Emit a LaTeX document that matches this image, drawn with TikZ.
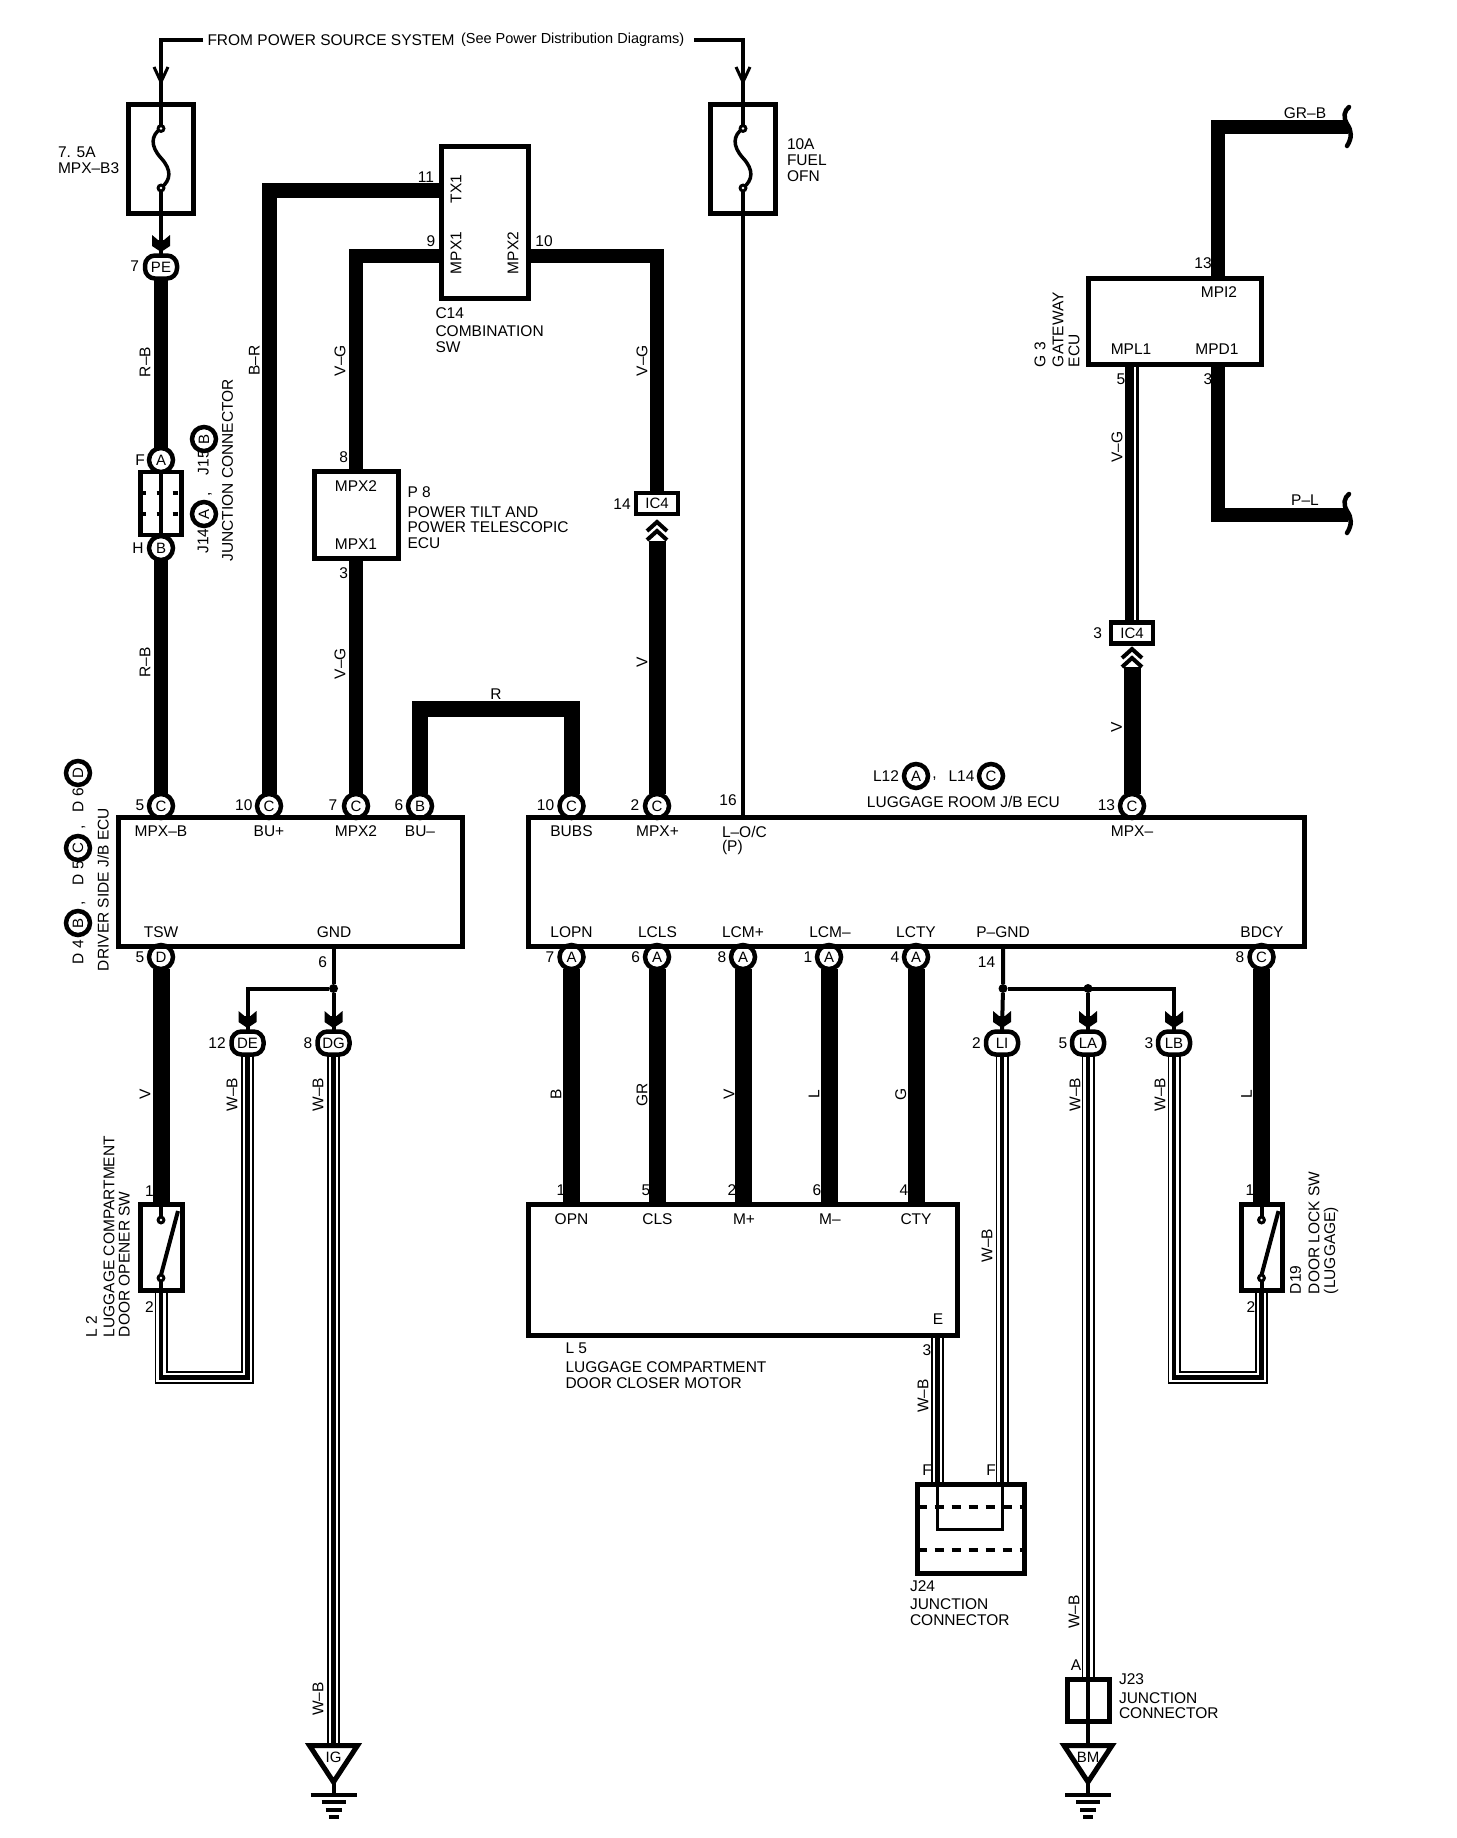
\documentclass[tikz,border=0pt]{standalone}
\usepackage{fontspec}
\setmainfont{Liberation Sans}
\pgfdeclarelayer{bg}
\pgfsetlayers{bg,main}
\tikzset{
 tx/.style={inner sep=0pt,outer sep=0pt,font=\fontsize{15.5}{18}\selectfont},
 txl/.style={tx,anchor=west},
 rt/.style={tx,rotate=90},
 rtl/.style={tx,rotate=90,anchor=west},
 num/.style={tx,font=\fontsize{15.5}{18}\selectfont},
 conn/.style={circle,draw=black,fill=white,line width=4.5pt,minimum size=24pt,inner sep=0pt,outer sep=0pt,font=\fontsize{15}{16}\selectfont},
 oval/.style={rectangle,rounded corners=10pt,draw=black,fill=white,line width=4.5pt,minimum width=32pt,minimum height=23pt,inner sep=0pt,outer sep=0pt,font=\fontsize{15}{16}\selectfont},
 box/.style={rectangle,draw=black,line width=5pt,inner sep=0pt,outer sep=0pt},
 icbox/.style={box,fill=white,line width=4.5pt,minimum width=42pt,minimum height=21pt,font=\fontsize{15}{16}\selectfont},
 dotn/.style={circle,fill=black,minimum size=9pt,inner sep=0pt,outer sep=0pt},
 w4/.style={draw=black,line width=4pt,line join=miter},
 wthick/.style={draw=black,line width=#1,line join=miter},
 triple/.style={draw=black,line width=13pt,line join=miter,postaction={draw=white,line width=9.5pt},postaction={draw=black,line width=4.5pt}},
}
\newcommand{\fusecurve}[1]{%
 \draw[line width=3.5pt] (#1,128.5) .. controls (#1-10,135) and (#1-11,146) .. (#1,158) .. controls (#1+11,170) and (#1+10,180) .. (#1,188);
 \fill (#1,128.5) circle (4.5pt) (#1,188) circle (4.5pt);
 \fill[white] (#1,128.5) circle (1.3pt) (#1,188) circle (1.3pt);}
\newcommand{\openv}[2]{\draw[line width=3pt] (#1-7,#2) -- (#1,#2+15) -- (#1+7,#2);}
\newcommand{\barb}[2]{\fill (#1-9,#2) -- (#1-3,#2+5) -- (#1+3,#2+5) -- (#1+9,#2) -- (#1+9,#2+11) -- (#1,#2+17) -- (#1-9,#2+11) -- cycle;}
\newcommand{\chev}[2]{%
 \draw[line width=4pt,line join=miter] (#1-10,#2+9) -- (#1,#2) -- (#1+10,#2+9);
 \draw[line width=4pt,line join=miter] (#1-10,#2+18) -- (#1,#2+9) -- (#1+10,#2+18);}
\newcommand{\lever}[1]{%
 \draw[line width=4pt] (#1,1203) -- (#1,1220);
 \draw[line width=4pt] (#1,1278) -- (#1,1290);
 \draw[line width=4pt] (#1,1275) -- (#1+17,1211);
 \fill (#1,1220) circle (4.5pt) (#1,1278) circle (4.5pt);
 \fill[white] (#1,1220) circle (1.3pt) (#1,1278) circle (1.3pt);}
\newcommand{\gnd}[3]{%
 \coordinate (#1t) at (#2,1743);
 \node[tx,font=\fontsize{15}{16}\selectfont] (#1) at (#2,1757) {#3};
 \draw[line width=5pt,line join=miter] (#2-24,1745.5) -- (#2+24,1745.5) -- (#2,1782) -- cycle;
 \draw[line width=4pt] (#2,1780) -- (#2,1794);
 \draw[line width=4pt] (#2-23,1794.5) -- (#2+23,1794.5);
 \draw[line width=4pt] (#2-12,1802) -- (#2+12,1802);
 \draw[line width=4pt] (#2-8,1809.5) -- (#2+8,1809.5);
 \draw[line width=4pt] (#2-5,1817) -- (#2+5,1817);}
\begin{document}
\begin{tikzpicture}[x=1pt,y=-1pt]
\useasboundingbox (0,0) rectangle (1456,1838);

% free coordinates
\coordinate (lt) at (203,40);
\coordinate (rtc) at (694,40);
\coordinate (fs1t) at (161,128.5);
\coordinate (fs1b) at (161,188);
\coordinate (fs2t) at (743,128.5);
\coordinate (fs2b) at (743,188);
\coordinate (c14tx) at (441.5,191);
\coordinate (c14m1) at (441.5,255.5);
\coordinate (c14m2) at (528.5,255.5);
\coordinate (g3mpi) at (1218,278);
\coordinate (g3mpd) at (1218,364);
\coordinate (g3l) at (1132,364);
\coordinate (grb) at (1348,127);
\coordinate (plw) at (1348,514.5);
\coordinate (v1) at (657,541);
\coordinate (v2) at (1132,667);
\coordinate (rc) at (496,708.5);
\coordinate (dl) at (247.5,1377.5);
\coordinate (lbl) at (1174,1377.5);

% connectors
\node[oval] (PE) at (161,267) {PE};
\node[conn] (ja) at (161,460) {A};
\node[conn] (jb) at (161,548) {B};
\node[conn] (cMPXB) at (161,806) {C};
\node[conn] (cBUp) at (269,806) {C};
\node[conn] (cMPX2) at (356,806) {C};
\node[conn] (cBUm) at (420,806) {B};
\node[conn] (cBUBS) at (571.5,806) {C};
\node[conn] (cMPXp) at (657,806) {C};
\node[conn] (cMPXm) at (1132,806) {C};
\node[conn] (cTSW) at (161,957) {D};
\node[conn] (cLOPN) at (571.5,957) {A};
\node[conn] (cLCLS) at (657,957) {A};
\node[conn] (cLCMp) at (743,957) {A};
\node[conn] (cLCMm) at (829,957) {A};
\node[conn] (cLCTY) at (916,957) {A};
\node[conn] (cBDCY) at (1261.5,957) {C};
\node[oval] (DE) at (247.5,1043) {DE};
\node[oval] (DG) at (333.5,1043) {DG};
\node[oval] (LI) at (1002,1043) {LI};
\node[oval] (LA) at (1088,1043) {LA};
\node[oval] (LB) at (1174,1043) {LB};
\node[conn] (sA) at (916,776) {A};
\node[conn] (sC) at (991,776) {C};
\node[conn,rotate=90] (s14) at (204,514) {A};
\node[conn,rotate=90] (s15) at (204,439) {B};
\node[conn,rotate=90] (d4) at (78,923) {B};
\node[conn,rotate=90] (d5) at (78,848) {C};
\node[conn,rotate=90] (d6) at (78,773) {D};

% boxes
\node[box,minimum width=65pt,minimum height=109pt] (fuse1) at (161,159) {};
\node[box,minimum width=65pt,minimum height=109pt] (fuse2) at (743,159) {};
\node[box,minimum width=87pt,minimum height=151.5pt] (C14) at (485,222.75) {};
\node[box,minimum width=84pt,minimum height=87pt] (P8) at (356,514.5) {};
\node[box,line width=4.5pt,minimum width=41pt,minimum height=63pt] (J14) at (161,503.5) {};
\node[box,minimum width=172.5pt,minimum height=86pt] (G3) at (1174.75,321) {};
\node[icbox] (IC4a) at (657,503.5) {IC4};
\node[icbox] (IC4b) at (1132,633) {IC4};
\node[box,minimum width=343.5pt,minimum height=129pt] (jbL) at (290.25,881.5) {};
\node[box,minimum width=775.5pt,minimum height=129pt] (jbR) at (916.25,881.5) {};
\node[box,minimum width=42pt,minimum height=86pt] (L2) at (161,1247) {};
\node[box,minimum width=41pt,minimum height=86pt] (D19) at (1261.5,1247) {};
\node[box,minimum width=429pt,minimum height=131pt] (L5) at (743,1269.5) {};
\node[box,minimum width=107pt,minimum height=89pt] (J24) at (971,1528.5) {};
\node[box,minimum width=42pt,minimum height=42pt] (J23) at (1088,1700) {};

% junction dots
\node[dotn] (dG) at (333.5,988.5) {};
\node[dotn] (dP) at (1003,988.5) {};
\node[dotn] (dA) at (1088,988.5) {};

% grounds
\gnd{IG}{333.5}{IG}
\gnd{BM}{1088}{BM}

% wires
\begin{pgfonlayer}{bg}
\fill[white] (0,0) rectangle (1456,1838);
\draw[w4] (lt) -| (fs1t);
\draw[w4] (fs1b) -- (PE.north);
\draw[w4] (rtc) -| (fs2t);
\draw[w4] (fs2b) -- (fs2b |- jbR.north);
\draw[wthick=14pt] (PE.south) -- (ja.north);
\draw[w4] (ja.south) -- (jb.north);
\draw[wthick=14pt] (jb.south) -- (cMPXB.north);
\draw[wthick=15pt] (c14tx) -| (cBUp.north);
\draw[wthick=14pt] (c14m1) -| (P8.north);
\draw[wthick=14pt] (P8.south) -- (cMPX2.north);
\draw[wthick=14pt] (c14m2) -| (IC4a.north);
\draw[wthick=17pt] (v1) -- (cMPXp.north);
\draw[wthick=16pt] (cBUm.north) |- (rc) -| (cBUBS.north);
\draw[wthick=14pt] (g3mpi) |- (grb);
\draw[wthick=14pt] (g3mpd) |- (plw);
\draw[wthick=14pt] (g3l) -- (IC4b.north);
\draw[white,line width=2pt] ([xshift=2.5pt]g3l) -- ([xshift=2.5pt]IC4b.north);
\draw[wthick=17pt] (v2) -- (cMPXm.north);
\draw[wthick=17pt] (cTSW.south) -- (cTSW.south |- L2.north);
\draw[wthick=17pt] (cLOPN.south) -- (cLOPN.south |- L5.north);
\draw[wthick=17pt] (cLCLS.south) -- (cLCLS.south |- L5.north);
\draw[wthick=17pt] (cLCMp.south) -- (cLCMp.south |- L5.north);
\draw[wthick=17pt] (cLCMm.south) -- (cLCMm.south |- L5.north);
\draw[wthick=17pt] (cLCTY.south) -- (cLCTY.south |- L5.north);
\draw[wthick=17pt] (cBDCY.south) -- (cBDCY.south |- D19.north);
\draw[w4] (dG |- jbL.south) -- (dG) -- (DG.north);
\draw[w4] (dG) -| (DE.north);
\draw[w4] (dP |- jbR.south) -- (dP) -- (LI.north);
\draw[w4] (dA) -- (LA.north);
\draw[w4] (dP) -| (LB.north);
\draw[triple] (L2.south) |- (dl) -- (DE.south);
\draw[triple] (DG.south) -- (IGt);
\draw[triple] (LA.south) -- (J23.north);
\draw[triple] (D19.south) |- (lbl) -- (LB.south);
\draw[triple] (LI.south) -- (LI.south |- J24.north);
\draw[triple] (937.5,1337) -- (937.5,1484);
\end{pgfonlayer}
\draw[w4] (J23.north) -- (BMt);
\draw[draw=black,line width=3pt] (937.5,1484) -- (937.5,1529) -- (1002,1529) -- (1002,1484);
\draw[line width=4pt,dash pattern=on 9pt off 8pt] (J24.west |- 0,1506.5) -- (J24.east |- 0,1506.5);
\draw[line width=4pt,dash pattern=on 9pt off 8pt] (J24.west |- 0,1550) -- (J24.east |- 0,1550);
\draw[line width=3pt] (J14.north) -- (J14.south);
\draw[line width=4pt,dash pattern=on 5pt off 11pt] (J14.west |- 0,493) -- (J14.east |- 0,493);
\draw[line width=4pt,dash pattern=on 5pt off 11pt] (J14.west |- 0,514) -- (J14.east |- 0,514);

% symbols
\fusecurve{161}
\fusecurve{743}
\openv{161}{67}
\openv{743}{67}
\barb{161}{235}
\barb{247.5}{1011}
\barb{333.5}{1011}
\barb{1002}{1011}
\barb{1088}{1011}
\barb{1174}{1011}
\chev{657}{522}
\chev{1132}{649}
\lever{161}
\lever{1261.5}
\draw[line width=4.5pt,line cap=round] (1349,107) .. controls (1344,111) and (1343,117) .. (1347,124) .. controls (1352,131) and (1352,138) .. (1347,146);
\draw[line width=4.5pt,line cap=round] (1349,494) .. controls (1344,498) and (1343,504) .. (1347,511) .. controls (1352,518) and (1352,525) .. (1347,533);

% heading
\node[txl] (tFrom) at (207.5,40) {FROM POWER SOURCE SYSTEM};
\node[txl,font=\fontsize{14.5}{16}\selectfont] (tSee) at (461,40) {(See Power Distribution Diagrams)};
% fuse labels
\node[txl] (t75) at (58,152) {7. 5A};
\node[txl] (tMB3) at (58,168) {MPX–B3};
\node[txl] (t10A) at (787,144) {10A};
\node[txl] (tFuel) at (787,160) {FUEL};
\node[txl] (tOfn) at (787,176) {OFN};
% C14
\node[rt] (tTX1) at (456,189) {TX1};
\node[rt] (tM1c) at (456,253) {MPX1};
\node[rt] (tM2c) at (513,253) {MPX2};
\node[num] (n11) at (426,177) {11};
\node[num] (n9) at (431,241) {9};
\node[num] (n10a) at (544,241) {10};
\node[txl] (tC14) at (435.5,313.5) {C14};
\node[txl] (tCom) at (435.5,331) {COMBINATION};
\node[txl] (tSW) at (435.5,347) {SW};
% P8
\node[tx] (tPm2) at (356,486) {MPX2};
\node[tx] (tPm1) at (356,543.7) {MPX1};
\node[num] (n8p) at (343.6,457.5) {8};
\node[num] (n3p) at (343.6,573.3) {3};
\node[txl] (tP8) at (407.6,492) {P 8};
\node[txl] (tPT1) at (407.6,512) {POWER TILT AND};
\node[txl] (tPT2) at (407.6,527) {POWER TELESCOPIC};
\node[txl] (tPT3) at (407.6,543) {ECU};
\node[num] (n14ic) at (622,504) {14};
\node[num] (n3ic) at (1097.6,633) {3};
% junction J14/J15
\node[num] (n7pe) at (134.6,266) {7};
\node[num] (nF) at (140,460) {F};
\node[num] (nH) at (138,548) {H};
\node[rt] (tJ14) at (203,541) {J14};
\node[rt] (tcom1) at (210,494) {,};
\node[rt] (tJ15) at (203.4,462.6) {J15};
\node[rtl] (tJC) at (227.5,561.5) {JUNCTION CONNECTOR};
% G3
\node[tx] (tMPI) at (1219,292) {MPI2};
\node[tx] (tMPL) at (1131,349.5) {MPL1};
\node[tx] (tMPD) at (1217,349.5) {MPD1};
\node[num] (n13g) at (1203,263) {13};
\node[num] (n3g) at (1208,379.6) {3};
\node[num] (n5g) at (1121,379.6) {5};
\node[rtl] (tG3) at (1040,367) {G 3};
\node[rtl] (tGw) at (1058,367) {GATEWAY};
\node[rtl] (tEc) at (1074,367) {ECU};
\node[tx] (tGRB) at (1305,112.7) {GR–B};
\node[tx] (tPL) at (1305,500) {P–L};
% wire colour labels
\node[rt] (wRB1) at (145,362) {R–B};
\node[rt] (wRB2) at (145,662.7) {R–B};
\node[rt] (wBR) at (254.4,360.6) {B–R};
\node[rt] (wVG1) at (340,360.6) {V–G};
\node[rt] (wVG2) at (642,360.6) {V–G};
\node[rt] (wVG3) at (340,663.5) {V–G};
\node[rt] (wV1) at (642,662.7) {V};
\node[rt] (wVG4) at (1117,447) {V–G};
\node[rt] (wV2) at (1116.6,727) {V};
\node[tx] (wR) at (496,694) {R};
\node[rt] (wV3) at (145,1094.5) {V};
\node[rt] (wWB1) at (232,1094.5) {W–B};
\node[rt] (wWB2) at (318,1094.5) {W–B};
\node[rt] (wB) at (556,1094.5) {B};
\node[rt] (wGR) at (642,1094.5) {GR};
\node[rt] (wV4) at (729,1094.5) {V};
\node[rt] (wL1) at (814,1094.5) {L};
\node[rt] (wG) at (900.7,1094.5) {G};
\node[rt] (wWB3) at (1075,1094.5) {W–B};
\node[rt] (wWB4) at (1160,1094.5) {W–B};
\node[rt] (wL2) at (1246.6,1094.5) {L};
\node[rt] (wWB5) at (987,1245.6) {W–B};
\node[rt] (wWB6) at (923,1396) {W–B};
\node[rt] (wWB7) at (1074,1612) {W–B};
\node[rt] (wWB8) at (318,1699) {W–B};
% J/B left labels
\node[tx] (pMB) at (161,831.5) {MPX–B};
\node[tx] (pBp) at (269,831.5) {BU+};
\node[tx] (pM2) at (356,831.5) {MPX2};
\node[tx] (pBm) at (420,831.5) {BU–};
\node[tx] (pTS) at (161,932) {TSW};
\node[tx] (pGN) at (334,932) {GND};
\node[num] (nt5) at (140,805) {5};
\node[num] (nt10) at (243.8,805) {10};
\node[num] (nt7) at (333,805) {7};
\node[num] (nt6) at (399,805) {6};
\node[num] (nb5) at (140,957) {5};
\node[num] (nb6) at (322.7,962) {6};
\node[num] (n12) at (217,1043) {12};
\node[num] (n8dg) at (308,1043) {8};
\node[rtl] (tDrv) at (103,971) {DRIVER SIDE J/B ECU};
\node[rt] (tD4) at (78,952) {D 4};
\node[rt] (tD5) at (78,873) {D 5};
\node[rt] (tD6) at (78,800) {D 6};
\node[rt] (tcd1) at (83.6,903) {,};
\node[rt] (tcd2) at (83.6,827.6) {,};
% J/B right labels
\node[tx] (pBU) at (571.5,831.5) {BUBS};
\node[tx] (pMp) at (657.5,831.5) {MPX+};
\node[txl] (pLO) at (722,831.5) {L–O/C};
\node[txl] (pPP) at (722,847) {(P)};
\node[tx] (pMm) at (1132,831.5) {MPX–};
\node[tx] (pLP) at (571.5,932) {LOPN};
\node[tx] (pLC) at (657.5,932) {LCLS};
\node[tx] (pLp) at (743,932) {LCM+};
\node[tx] (pLm) at (830,932) {LCM–};
\node[tx] (pLT) at (916,932) {LCTY};
\node[tx] (pPG) at (1003,932) {P–GND};
\node[tx] (pBD) at (1262,932) {BDCY};
\node[num] (nt10r) at (545.6,805) {10};
\node[num] (nt2) at (635,805) {2};
\node[num] (nt16) at (728,800) {16};
\node[num] (nt13) at (1106.4,805) {13};
\node[num] (nb7) at (550,957) {7};
\node[num] (nb6r) at (635.6,957) {6};
\node[num] (nb8) at (722,957) {8};
\node[num] (nb1) at (808,957) {1};
\node[num] (nb4) at (895,957) {4};
\node[num] (nb14) at (986.6,962) {14};
\node[num] (nb8c) at (1240,957) {8};
\node[num] (n2li) at (976.4,1043) {2};
\node[num] (n5la) at (1063,1043) {5};
\node[num] (n3lb) at (1149,1043) {3};
\node[tx] (tL12) at (886,776) {L12};
\node[tx] (tcm) at (934.6,779) {,};
\node[tx] (tL14) at (961.5,776) {L14};
\node[tx] (tLRJ) at (963.4,802) {LUGGAGE ROOM J/B ECU};
% L5
\node[tx] (pOP) at (571.5,1219) {OPN};
\node[tx] (pCL) at (657.5,1219) {CLS};
\node[tx] (pMP) at (744,1219) {M+};
\node[tx] (pMM) at (830,1219) {M–};
\node[tx] (pCT) at (916,1219) {CTY};
\node[tx] (pE) at (938,1319) {E};
\node[num] (n1l) at (561,1190.5) {1};
\node[num] (n5l) at (646,1190.5) {5};
\node[num] (n2l) at (732,1190.5) {2};
\node[num] (n6l) at (817,1190.5) {6};
\node[num] (n4l) at (904,1190.5) {4};
\node[num] (n3e) at (927,1350) {3};
\node[txl] (tL5) at (565.5,1348) {L 5};
\node[txl] (tL5a) at (565.5,1367) {LUGGAGE COMPARTMENT};
\node[txl] (tL5b) at (565.5,1383) {DOOR CLOSER MOTOR};
% switches
\node[num] (n1s) at (149.5,1191) {1};
\node[num] (n2s) at (149.5,1307.5) {2};
\node[rtl] (tL2) at (91.5,1337) {L 2};
\node[rtl] (tL2a) at (109,1337) {LUGGAGE COMPARTMENT};
\node[rtl] (tL2b) at (124.4,1337) {DOOR OPENER SW};
\node[num] (n1d) at (1250,1190.5) {1};
\node[num] (n2d) at (1251,1307.5) {2};
\node[rtl] (tD19) at (1295.4,1294) {D19};
\node[rtl] (tD19a) at (1314,1294) {DOOR LOCK SW};
\node[rtl] (tD19b) at (1331,1294) {(LUGGAGE)};
% junction connectors
\node[num] (nFa) at (927,1470) {F};
\node[num] (nFb) at (991,1470) {F};
\node[txl] (tJ24) at (910,1586) {J24};
\node[txl] (tJ24a) at (910,1604) {JUNCTION};
\node[txl] (tJ24b) at (910,1620) {CONNECTOR};
\node[num] (nAj) at (1076,1665) {A};
\node[txl] (tJ23) at (1119,1679) {J23};
\node[txl] (tJ23a) at (1119,1698) {JUNCTION};
\node[txl] (tJ23b) at (1119,1713) {CONNECTOR};
\end{tikzpicture}
\end{document}
